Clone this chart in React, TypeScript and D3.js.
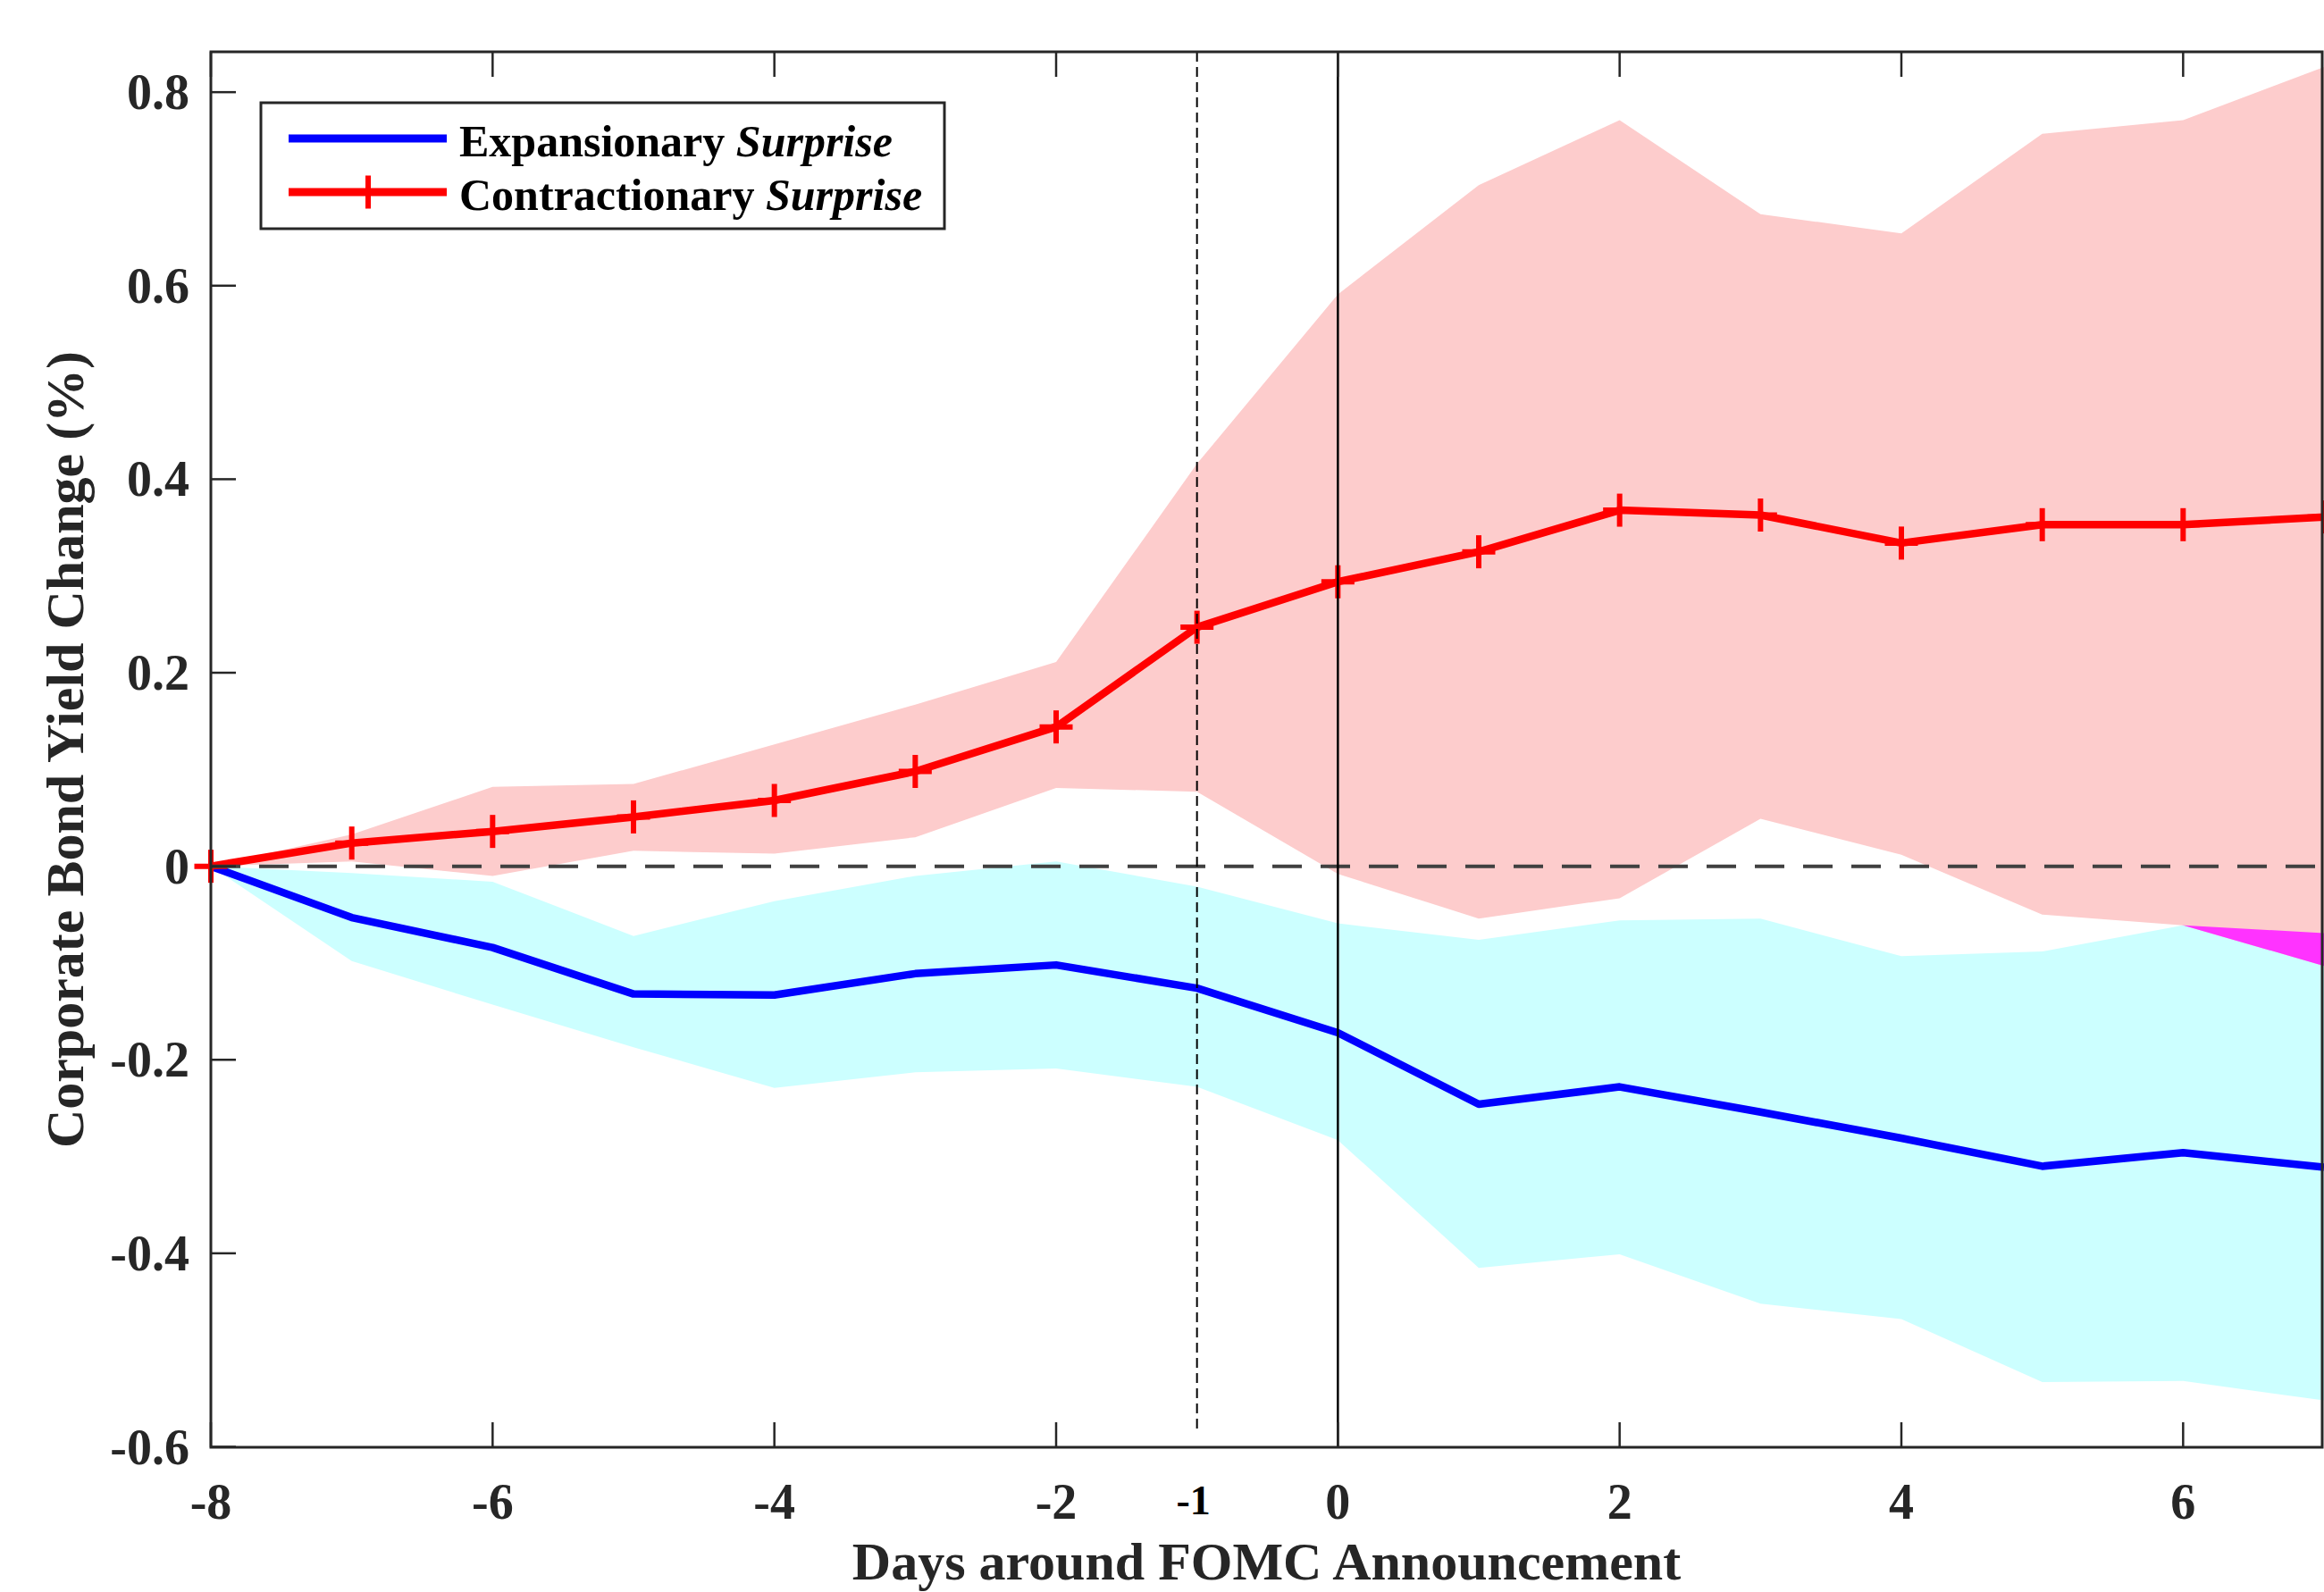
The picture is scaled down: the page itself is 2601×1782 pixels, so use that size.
import React, { useRef, useEffect } from "react";
import * as d3 from "d3";

// days around the announcement
const days = [-8, -7, -6, -5, -4, -3, -2, -1, 0, 1, 2, 3, 4, 5, 6, 7];

// contractionary surprise: mean and band
const contractionary = [0, 0.024, 0.036, 0.051, 0.068, 0.098, 0.144, 0.247, 0.294, 0.325, 0.368, 0.363, 0.334, 0.353, 0.353, 0.361];
const contractionaryUpper = [0, 0.033, 0.082, 0.085, 0.126, 0.167, 0.211, 0.416, 0.591, 0.704, 0.771, 0.674, 0.654, 0.757, 0.771, 0.826];
const contractionaryLower = [0, 0.005, -0.01, 0.016, 0.013, 0.03, 0.081, 0.077, -0.008, -0.054, -0.033, 0.049, 0.012, -0.05, -0.061, -0.103];

// expansionary surprise: mean and band
const expansionary = [0, -0.053, -0.084, -0.132, -0.133, -0.111, -0.102, -0.126, -0.172, -0.246, -0.228, -0.254, -0.281, -0.31, -0.296, -0.311];
const expansionaryUpper = [0, -0.007, -0.016, -0.072, -0.036, -0.01, 0.005, -0.021, -0.059, -0.076, -0.056, -0.054, -0.093, -0.088, -0.061, -0.069];
const expansionaryLower = [0, -0.098, -0.143, -0.187, -0.229, -0.213, -0.209, -0.228, -0.283, -0.415, -0.401, -0.452, -0.468, -0.533, -0.532, -0.552];

const xTicks = [-8, -6, -4, -2, 0, 2, 4, 6];
const yTicks = [-0.6, -0.4, -0.2, 0, 0.2, 0.4, 0.6, 0.8];

const FONT = "'Liberation Serif', 'Times New Roman', Times, serif";
const AXIS = "#262626";

const App = () => {
  const svgRef = useRef(null);

  useEffect(() => {
    const svg = d3.select(svgRef.current);
    svg.selectAll("*").remove();

    const W = 2601;
    const H = 1782;
    const left = 236;
    const right = 2599;
    const top = 58;
    const bottom = 1620;

    const x = d3.scaleLinear().domain([-8, 7]).range([left, 2601]);
    const y = d3.scaleLinear().domain([-0.6, 0.8417]).range([1619.5, top]);

    const red = days.map((d, i) => ({ d, m: contractionary[i], lo: contractionaryLower[i], hi: contractionaryUpper[i] }));
    const blue = days.map((d, i) => ({ d, m: expansionary[i], lo: expansionaryLower[i], hi: expansionaryUpper[i] }));

    const band = d3
      .area()
      .x((p) => x(p.d))
      .y0((p) => y(p.lo))
      .y1((p) => y(p.hi));
    const line = d3
      .line()
      .x((p) => x(p.d))
      .y((p) => y(p.m));

    svg.attr("width", W).attr("height", H);
    svg.append("rect").attr("width", W).attr("height", H).attr("fill", "#fff");

    // clip for where the two bands overlap
    const defs = svg.append("defs");
    defs.append("clipPath").attr("id", "pinkClip").append("path").attr("d", band(red));

    // confidence bands
    svg.append("path").attr("d", band(blue)).attr("fill", "#ccffff");
    svg.append("path").attr("d", band(red)).attr("fill", "#fdcccc");
    svg
      .append("path")
      .attr("d", band(blue))
      .attr("fill", "#ff33ff")
      .attr("clip-path", "url(#pinkClip)");

    // mean lines
    svg
      .append("path")
      .attr("d", line(blue))
      .attr("fill", "none")
      .attr("stroke", "#0000ff")
      .attr("stroke-width", 8.5)
      .attr("stroke-linejoin", "round");
    svg
      .append("path")
      .attr("d", line(red))
      .attr("fill", "none")
      .attr("stroke", "#ff0000")
      .attr("stroke-width", 8.5)
      .attr("stroke-linejoin", "round");

    // + markers on the contractionary line
    const ms = 18.5;
    const marks = svg.append("g").attr("stroke", "#ff0000").attr("stroke-width", 6);
    red.forEach((p) => {
      const cx = x(p.d);
      const cy = y(p.m);
      marks.append("line").attr("x1", cx - ms).attr("x2", cx + ms).attr("y1", cy).attr("y2", cy);
      marks.append("line").attr("x1", cx).attr("x2", cx).attr("y1", cy - ms).attr("y2", cy + ms);
    });

    // zero line and event lines
    svg
      .append("line")
      .attr("x1", x(-8))
      .attr("x2", x(7))
      .attr("y1", y(0))
      .attr("y2", y(0))
      .attr("stroke", "#404040")
      .attr("stroke-width", 4)
      .attr("stroke-dasharray", "33,21");
    svg
      .append("line")
      .attr("x1", x(0))
      .attr("x2", x(0))
      .attr("y1", top)
      .attr("y2", bottom)
      .attr("stroke", "#000")
      .attr("stroke-width", 2.5);
    svg
      .append("line")
      .attr("x1", x(-1))
      .attr("x2", x(-1))
      .attr("y1", top)
      .attr("y2", y(-0.585))
      .attr("stroke", "#000")
      .attr("stroke-width", 2)
      .attr("stroke-dasharray", "11,6");

    // axes box
    svg
      .append("path")
      .attr("d", `M${left},${top}H${right}V${bottom}H${left}Z`)
      .attr("fill", "none")
      .attr("stroke", AXIS)
      .attr("stroke-width", 3);

    const tl = 28;
    const ticks = svg.append("g").attr("stroke", AXIS).attr("stroke-width", 2.5);
    xTicks.forEach((t) => {
      ticks.append("line").attr("x1", x(t)).attr("x2", x(t)).attr("y1", bottom).attr("y2", bottom - tl);
      ticks.append("line").attr("x1", x(t)).attr("x2", x(t)).attr("y1", top).attr("y2", top + tl);
    });
    yTicks.forEach((t) => {
      ticks.append("line").attr("x1", left).attr("x2", left + tl).attr("y1", y(t)).attr("y2", y(t));
    });

    // tick labels
    const labels = svg
      .append("g")
      .attr("font-family", FONT)
      .attr("font-weight", "bold")
      .attr("font-size", 56)
      .attr("fill", AXIS);
    xTicks.forEach((t) => {
      labels.append("text").attr("x", x(t)).attr("y", 1700).attr("text-anchor", "middle").text(String(t));
    });
    yTicks.forEach((t) => {
      labels
        .append("text")
        .attr("x", 212)
        .attr("y", y(t))
        .attr("dy", "0.34em")
        .attr("text-anchor", "end")
        .text(t === 0 ? "0" : t.toFixed(1));
    });
    svg
      .append("text")
      .attr("x", x(-1) - 4)
      .attr("y", 1695)
      .attr("text-anchor", "middle")
      .attr("font-family", FONT)
      .attr("font-weight", "bold")
      .attr("font-size", 46)
      .attr("fill", "#000")
      .text("-1");

    // axis titles
    svg
      .append("text")
      .attr("x", (left + right) / 2)
      .attr("y", 1768)
      .attr("text-anchor", "middle")
      .attr("font-family", FONT)
      .attr("font-weight", "bold")
      .attr("font-size", 60)
      .attr("fill", AXIS)
      .text("Days around FOMC Announcement");
    svg
      .append("text")
      .attr("transform", `translate(93, ${(top + bottom) / 2}) rotate(-90)`)
      .attr("text-anchor", "middle")
      .attr("font-family", FONT)
      .attr("font-weight", "bold")
      .attr("font-size", 60)
      .attr("fill", AXIS)
      .text("Corporate Bond Yield Change (%)");

    // legend
    const lg = svg.append("g");
    lg.append("rect")
      .attr("x", 292)
      .attr("y", 115)
      .attr("width", 765)
      .attr("height", 141)
      .attr("fill", "#fff")
      .attr("stroke", AXIS)
      .attr("stroke-width", 3);
    const entries = [
      { name: "Expansionary ", color: "#0000ff", yy: 155, marker: false },
      { name: "Contractionary ", color: "#ff0000", yy: 215, marker: true },
    ];
    entries.forEach((e) => {
      lg.append("line")
        .attr("x1", 323)
        .attr("x2", 500)
        .attr("y1", e.yy)
        .attr("y2", e.yy)
        .attr("stroke", e.color)
        .attr("stroke-width", 9);
      if (e.marker) {
        lg.append("line")
          .attr("x1", 412)
          .attr("x2", 412)
          .attr("y1", e.yy - ms)
          .attr("y2", e.yy + ms)
          .attr("stroke", e.color)
          .attr("stroke-width", 6);
      }
      const t = lg
        .append("text")
        .attr("x", 514)
        .attr("y", e.yy + 20)
        .attr("font-family", FONT)
        .attr("font-weight", "bold")
        .attr("font-size", 50)
        .attr("fill", "#000");
      t.append("tspan").text(e.name);
      t.append("tspan").attr("font-style", "italic").text("Surprise");
    });
  }, []);

  return <svg ref={svgRef} style={{ position: "absolute", left: 0, top: 0 }}></svg>;
};

export default App;
